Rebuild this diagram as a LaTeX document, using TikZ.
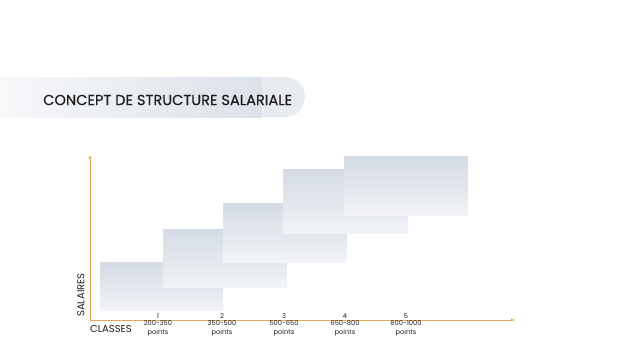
\documentclass[tikz,border=0pt]{standalone}
\usepackage{fontspec}
\usepackage{xcolor}
\setmainfont{Poppins}
\newfontfamily\titlefont[FakeBold=0.35]{Poppins}
\usetikzlibrary{arrows.meta}
\definecolor{axis_gold}{HTML}{E2AA55}
\definecolor{band_top}{HTML}{D4DBE3}
\definecolor{band_bottom}{HTML}{F1F3F7}
\definecolor{banner_left}{HTML}{F7F8FA}
\definecolor{banner_right}{HTML}{DCE2E9}
\definecolor{banner_tip}{HTML}{E8ECF0}
\definecolor{label_text}{HTML}{1E1E1E}
\tikzset{
    band/.style={top color=band_top,bottom color=band_bottom,draw=none},
    axis_line/.style={-{Triangle[length=1.4mm,width=0.9mm]},axis_gold,line width=0.7pt},
    title_text/.style={font=\titlefont\fontsize{14.6}{17}\selectfont,text=label_text,inner sep=0pt},
    axis_label/.style={font=\fontsize{10}{12}\selectfont,text=label_text,inner sep=0pt},
    class_num/.style={font=\fontsize{6.7}{8}\selectfont,text=label_text,inner sep=0pt},
    class_range/.style={font=\fontsize{6.7}{8.5}\selectfont,text=label_text,align=center,inner sep=0pt},
}

\begin{document}
\begin{tikzpicture}[x=1pt,y=-1pt]
  \useasboundingbox (0,0) rectangle (640,360);
  % title banner
  \fill[banner_tip] (0,77) -- (285,77) arc[start angle=-90,end angle=90,radius=20] -- (0,117) -- cycle;
  \shade[left color=banner_left,right color=banner_right] (0,77) rectangle (262,117);
  \node[title_text,anchor=west] (title) at (43,100) {CONCEPT DE STRUCTURE SALARIALE};
  % salary bands
  \shade[band] (100,262) rectangle (223,310);
  \shade[band] (163,229) rectangle (287,287);
  \shade[band] (223,203) rectangle (347,262);
  \shade[band] (283,169) rectangle (408,233);
  \shade[band] (344,156) rectangle (468,215);
  % axes
  \coordinate (origin) at (90,320);
  \coordinate (y_end) at (90,155);
  \coordinate (x_end) at (515,320);
  \draw[axis_line] (origin) -- (y_end);
  \draw[axis_line] (origin) -- (x_end);
  \node[axis_label,anchor=west] (classes) at (90,329) {CLASSES};
  \node[axis_label,rotate=90] (salaires) at (81,295) {SALAIRES};
  % classes
  \node[class_num] (num1) at (158,316) {1};
  \node[class_num] (num2) at (222,316) {2};
  \node[class_num] (num3) at (284,316) {3};
  \node[class_num] (num4) at (345,316) {4};
  \node[class_num] (num5) at (406,316) {5};
  \node[class_range] (range1) at (158,328.5) {200-350\\points};
  \node[class_range] (range2) at (222,328.5) {350-500\\points};
  \node[class_range] (range3) at (284,328.5) {500-650\\points};
  \node[class_range] (range4) at (345,328.5) {650-800\\points};
  \node[class_range] (range5) at (406,328.5) {800-1000\\points};
\end{tikzpicture}
\end{document}
